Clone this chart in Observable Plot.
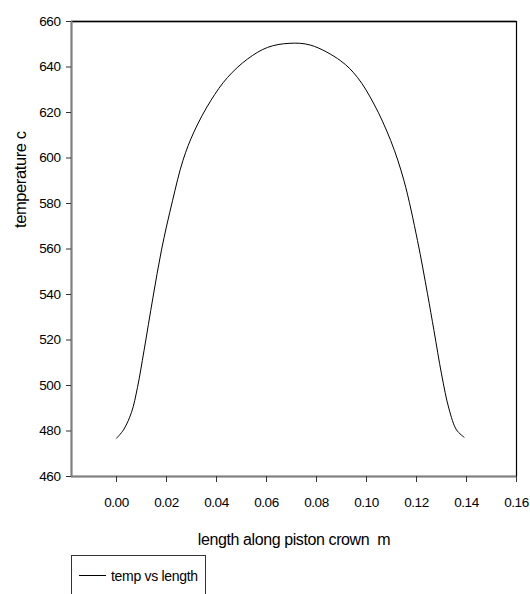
<!DOCTYPE html>
<html>
<head>
<meta charset="utf-8">
<script src="https://cdn.jsdelivr.net/npm/d3@7"></script>
<script src="https://cdn.jsdelivr.net/npm/@observablehq/plot@0.6"></script>
<style>
  html, body { margin: 0; padding: 0; background: #fff; }
  #wrap { position: relative; width: 530px; height: 594px; overflow: hidden; font-family: "Liberation Sans", Arial, sans-serif; }
  #legend { position: absolute; left: 71px; top: 555px; width: 135px; height: 60px; border: 1px solid #333; box-sizing: border-box; }
  #legend .sw { position: absolute; left: 7px; top: 19px; width: 27px; height: 0; border-top: 1px solid #000; }
  #legend .lb { position: absolute; left: 39px; top: 12px; font-size: 14px; letter-spacing: -0.3px; color: #000; white-space: nowrap; }
</style>
</head>
<body>
<div id="wrap"><div id="chart"></div>
<div id="legend"><div class="sw"></div><div class="lb">temp vs length</div></div>
</div>
<script>
const lengthM = [0, 0.0028, 0.006, 0.0084, 0.011, 0.0146, 0.018, 0.0224, 0.0266, 0.031, 0.0377, 0.0444, 0.0524, 0.0604, 0.0690, 0.0777, 0.0897, 0.0964, 0.103, 0.1097, 0.115, 0.1204, 0.1244, 0.127, 0.13, 0.133, 0.136, 0.139];
const tempC = [476.8, 480.5, 488.2, 499.2, 515.3, 538.8, 559.6, 581.2, 599.0, 611.5, 625.2, 635.4, 643.5, 648.6, 650.4, 649.6, 642.7, 635.4, 623.7, 607.6, 590, 563.7, 540.3, 524.1, 505.1, 489.7, 480.5, 477.3];
const xTicks = [0, 0.02, 0.04, 0.06, 0.08, 0.10, 0.12, 0.14, 0.16];
const yTicks = [460, 480, 500, 520, 540, 560, 580, 600, 620, 640, 660];
const xDomain = [-0.018, 0.16];
const yDomain = [460, 660];
const xTitle = "length along piston crown \u00a0m";
const yTitle = "temperature c";

const data = lengthM.map((x, i) => ({x, t: tempC[i]}));
const font = '"Liberation Sans", Arial, sans-serif';

const chart = Plot.plot({
  width: 530,
  height: 548,
  marginLeft: 71,
  marginRight: 14,
  marginTop: 21,
  marginBottom: 72,
  style: {fontFamily: font, fontSize: "13.5px", color: "#000", background: "#fff", letterSpacing: "-0.4px"},
  x: {domain: xDomain, axis: null},
  y: {domain: yDomain, axis: null},
  marks: [
    Plot.frame({stroke: "#000", strokeWidth: 1.2}),
    Plot.ruleY([yDomain[1]], {stroke: "#000", strokeWidth: 1.6}),
    Plot.ruleX([xDomain[0]], {stroke: "#808080", strokeWidth: 2}),
    Plot.ruleY([yDomain[0]], {stroke: "#808080", strokeWidth: 2}),
    Plot.axisY({ticks: yTicks, tickSize: 5, tickPadding: 6, stroke: "#333", tickFormat: d3.format("d"), label: null, fontSize: 13.5}),
    Plot.axisX({ticks: xTicks, tickSize: 6, tickPadding: 15, stroke: "#333", tickFormat: d3.format(".2f"), label: null, fontSize: 13.5}),
    Plot.line(data, {x: "x", y: "t", stroke: "#000", strokeWidth: 1, curve: "catmull-rom"}),
    Plot.text([xTitle], {frameAnchor: "bottom", dy: 68, fontSize: 16, fill: "#000", style: "letter-spacing:-0.5px"}),
    Plot.text([yTitle], {frameAnchor: "left", dx: -51, dy: -21, rotate: -90, fontSize: 16.5, fill: "#000"})
  ]
});
document.getElementById("chart").appendChild(chart);
</script>
</body>
</html>
